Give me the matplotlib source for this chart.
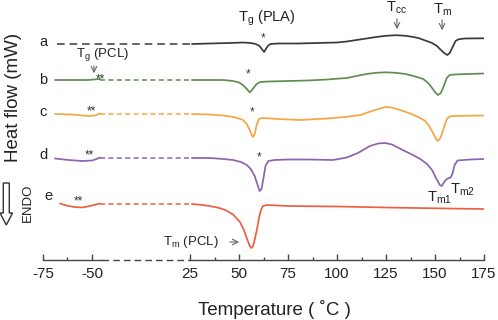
import numpy as np
import matplotlib
matplotlib.use("Agg")
import matplotlib.pyplot as plt
from matplotlib.patches import FancyArrow
import matplotlib.transforms as mtransforms

plt.rcParams['font.family'] = ['Liberation Sans', 'DejaVu Sans']
plt.rcParams['mathtext.fontset'] = 'custom'
plt.rcParams['mathtext.rm'] = 'Liberation Sans'
plt.rcParams['mathtext.it'] = 'Liberation Sans:italic'

# ---------------- data (temperature in degC, heat flow in arbitrary units) -------------
labels = ['a', 'b', 'c', 'd', 'e']
colors = ['#3a3a3a', '#5e8f4f', '#f5a545', '#8a64b0', '#ec6040']

# low-temperature (left) segments
left_T = {
    'b': [-68.9, -60, -52, -49, -45.9],
    'c': [-68.9, -60, -55, -51, -48.5, -46.5, -45.9],
    'd': [-68.9, -62, -55, -50, -47, -45.9],
    'e': [-66.3, -63, -59, -55, -51, -48, -45.9],
}
left_H = {
    'b': [180, 180, 180, 180.5, 181],
    'c': [146, 145.5, 144.5, 144, 144.5, 146, 146.5],
    'd': [101.5, 100, 99, 99.5, 101.5, 102.5],
    'e': [56.5, 54.5, 53, 52.5, 54, 55.5, 56.5],
}

# omitted-range connectors (start T, end T, level)
gap_start = {'a': -67.9, 'b': -45.9, 'c': -45.9, 'd': -45.9, 'e': -45.9}
gap_end = 25
gap_level = {'a': 216, 'b': 180, 'c': 146, 'd': 102, 'e': 56}

# high-temperature (right) segments
a_T = [26, 35, 45, 52, 56, 58.5, 60.5, 62, 62.8, 63.7, 64.7, 66, 70, 80, 90, 100, 105, 110,
       115, 120, 125, 130, 135, 139, 142, 145, 148.5, 151, 153, 155, 156.3, 157.5, 159,
       160.5, 162, 165, 175]
a_H = [216, 216.5, 217, 217.5, 217, 216, 214, 210, 208, 211, 214, 216, 216.5, 216.5, 217,
       217.5, 218.5, 220, 221.5, 223, 224.2, 224.8, 224.2, 223, 221.7, 219.5, 217, 214, 210,
       206.5, 205, 207, 213, 219, 220.7, 221.5, 221.7]

b_T = [26, 35, 42, 47, 50, 52, 54, 55.6, 57, 59, 61, 65, 75, 85, 95, 105, 110, 115, 120, 125,
       130, 135, 140, 144, 146.5, 148.5, 150, 151.5, 153, 154.5, 156, 157.5, 160, 167, 175]
b_H = [180, 180, 180, 179, 177.5, 175, 171, 167.5, 171, 176, 178, 178.5, 179, 179.5, 180.5,
       182, 184, 186, 187.2, 187.7, 187.2, 186, 183.5, 181, 177, 172, 168, 165, 167, 174, 182,
       185, 185.5, 186, 186.5]

c_T = [26, 35, 42, 47, 50, 52, 54, 55.5, 56.5, 57.2, 58, 59, 60.2, 62, 70, 81, 95, 104, 112,
       118.5, 122, 125, 128, 133, 138, 142, 145, 147, 149, 150.5, 151.5, 153, 154.5, 156,
       157.5, 160, 175]
c_H = [146, 145.5, 144.5, 143, 141.5, 140, 136, 130, 125, 123, 126, 135, 141, 142, 141, 140,
       141.5, 143, 145, 149.5, 151.5, 153, 152.5, 149.5, 146, 142.5, 139, 134, 127, 121, 119,
       123, 132, 141, 143.5, 144, 144.5]

d_T = [26, 35, 42, 47, 51, 54, 56, 58, 59.5, 60.5, 61.5, 62.5, 63.5, 65, 68, 75, 85, 98, 105,
       110.7, 116.8, 121, 124.5, 128, 130.6, 134.5, 138.8, 142.5, 145.9, 148.5, 150.5, 152.5,
       153.5, 155, 156.5, 158, 159, 160, 161.5, 168, 175]
d_H = [102, 102, 101, 100, 98, 95, 91, 84, 75, 69, 71, 82, 94, 99, 100, 100.5, 100.5, 100,
       102.5, 107, 114, 116.5, 117, 115.5, 113, 109, 105, 101, 96, 90, 82, 75, 74, 79, 81.5,
       82.5, 87, 95, 99.5, 100.5, 101]

e_T = [26, 30, 35, 40, 43, 47, 50.5, 52.5, 54.3, 55.5, 56.3, 57.2, 58.2, 59.3, 60.3, 61.2,
       62.3, 64, 75, 100, 125, 150, 175]
e_H = [56, 55.3, 54, 52, 50, 45.5, 38, 30, 20, 14, 12, 14, 22, 32, 43, 50, 54, 55, 54, 53.5,
       52.5, 51.7, 51]

right_T = {'a': a_T, 'b': b_T, 'c': c_T, 'd': d_T, 'e': e_T}
right_H = {'a': a_H, 'b': b_H, 'c': c_H, 'd': d_H, 'e': e_H}

# curve letter positions
label_T = [-75, -75, -75, -75, -72.4]
label_H = [218, 180, 148, 105, 64]

# single star (Tg PLA) and double star (Tg PCL) marks
star_T = [62.3, 54.6, 56.6, 60.2]
star_H = [222, 186, 148, 103]
dstar_T = [-45.9, -50.5, -51.5, -57.1]
dstar_H = [181, 149, 105, 59]

major_ticks = [-75, -50, 25, 50, 75, 100, 125, 150, 175]
minor_ticks = [-62.5, 37.5, 62.5, 87.5, 112.5, 137.5, 162.5]

BREAK_LO, BREAK_HI = -45, 25


def fwd(t):
    t = np.asarray(t, dtype=float)
    return np.where(t <= BREAK_LO, t,
                    np.where(t >= BREAK_HI, t - BREAK_HI,
                             BREAK_LO + (t - BREAK_LO) * 45.0 / 70.0))


def inv(u):
    u = np.asarray(u, dtype=float)
    return np.where(u <= BREAK_LO, u,
                    np.where(u >= 0, u + BREAK_HI,
                             BREAK_LO + (u - BREAK_LO) * 70.0 / 45.0))


fig = plt.figure(figsize=(4.98, 3.20), dpi=100)
ax = fig.add_axes([43 / 498, 60 / 320, 441 / 498, 260 / 320])
ax.set_xscale('function', functions=(fwd, inv))
ax.set_xlim(-75, 175)
ax.set_ylim(0, 260)

lw = 1.25
for lab, col in zip(labels, colors):
    if lab in left_T:
        ax.plot(left_T[lab], left_H[lab], color=col, lw=lw, solid_capstyle='round')
    dash = (5.0, 3.2) if lab == 'a' else (3.3, 2.2)
    ax.plot([gap_start[lab], gap_end], [gap_level[lab], gap_level[lab]], color=col, lw=1.1,
            linestyle=(0, dash))
    ax.plot(right_T[lab], right_H[lab], color=col, lw=lw, solid_capstyle='round')

for lab, t, h in zip(labels, label_T, label_H):
    ax.text(t, h, lab, fontsize=10.5, ha='center', va='center', color='#222')

for t, h in zip(star_T, star_H):
    ax.text(t, h, '*', fontsize=8.5, ha='center', va='center', color='#333')
for t, h in zip(dstar_T, dstar_H):
    ax.text(t, h, '**', fontsize=8.5, ha='center', va='center', color='#333')

acol = '#666666'
ax.text(64.3, 242, r'$\mathrm{T_g}$ (PLA)', fontsize=10.5, ha='center', va='center', color='#222')
ax.text(130.6, 252, r'$\mathrm{T_{cc}}$', fontsize=10.5, ha='center', va='center', color='#222')
ax.annotate('', xy=(130.6, 228), xytext=(130.6, 244),
            arrowprops=dict(arrowstyle='->', color=acol, lw=0.8))
ax.text(153.6, 250, r'$\mathrm{T_m}$', fontsize=10.5, ha='center', va='center', color='#222')
ax.annotate('', xy=(153.6, 227), xytext=(153.6, 243),
            arrowprops=dict(arrowstyle='->', color=acol, lw=0.8))
ax.text(-44.1, 205, r'$\mathrm{T_g}$ (PCL)', fontsize=9.5, ha='center', va='center', color='#222')
ax.annotate('', xy=(-49, 184), xytext=(-49, 197),
            arrowprops=dict(arrowstyle='->', color=acol, lw=0.8))
ax.text(25.5, 18, r'$\mathrm{T_m}$ (PCL)', fontsize=9.5, ha='center', va='center', color='#222')
ax.annotate('', xy=(51.5, 18), xytext=(43.9, 18),
            arrowprops=dict(arrowstyle='->', color=acol, lw=0.8))
ax.text(152, 62, r'$\mathrm{T_{m1}}$', fontsize=10.5, ha='center', va='center', color='#222')
ax.text(163.8, 70, r'$\mathrm{T_{m2}}$', fontsize=10.5, ha='center', va='center', color='#222')

# axis styling (broken bottom axis)
for s in ax.spines.values():
    s.set_visible(False)
btrans = mtransforms.blended_transform_factory(ax.transData, ax.transAxes)
axcol = '#444444'
ax.plot([-75, BREAK_LO], [0, 0], color=axcol, lw=1.0, transform=btrans, clip_on=False)
ax.plot([BREAK_LO, BREAK_HI], [0, 0], color=axcol, lw=1.0, transform=btrans, clip_on=False,
        linestyle=(0, (4.8, 2.9)))
ax.plot([BREAK_HI, 175], [0, 0], color=axcol, lw=1.0, transform=btrans, clip_on=False)

ax.set_xticks(major_ticks)
ax.set_xticklabels([str(t) for t in major_ticks])
ax.set_xticks(minor_ticks, minor=True)
ax.tick_params(axis='x', which='major', direction='in', length=4, width=1.0, color=axcol,
               labelsize=11, pad=5, labelcolor='#222')
ax.tick_params(axis='x', which='minor', direction='in', length=2.5, width=1.0, color=axcol)
ax.set_yticks([])
ax.set_xlabel('Temperature ( ˚C )', fontsize=13.5, color='#222')
ax.xaxis.set_label_coords(0.525, -0.155)

fig.text(14 / 498, 1 - 97 / 320, 'Heat flow (mW)', rotation=90, fontsize=13.5,
         ha='center', va='center', color='#222')
fig.text(28 / 498, 1 - 203 / 320, 'ENDO', rotation=90, fontsize=9.5,
         ha='center', va='center', color='#222')
arrow = FancyArrow(0.063, 1.37, 0, -0.42, width=0.06, head_width=0.125, head_length=0.12,
                   length_includes_head=True, transform=fig.dpi_scale_trans,
                   fc='white', ec='#333333', lw=1.0)
fig.add_artist(arrow)

fig.savefig('out.png', dpi=100)
